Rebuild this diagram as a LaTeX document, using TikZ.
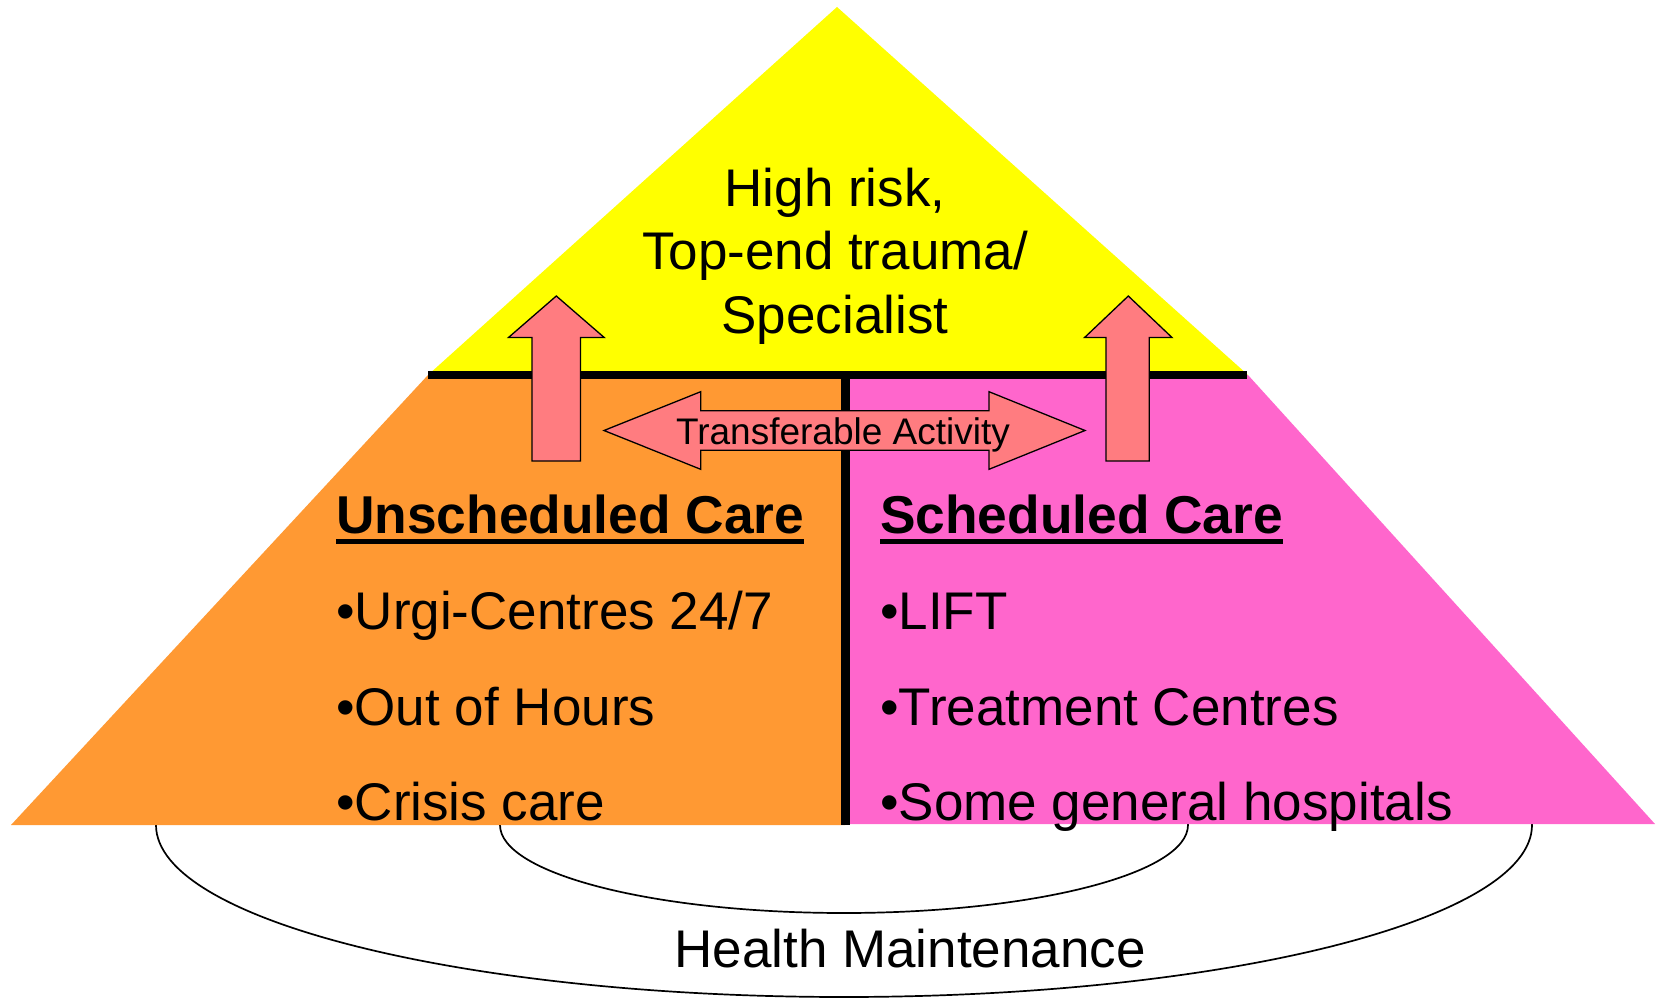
\documentclass[tikz,border=0pt]{standalone}
\usepackage{fontspec}
\setmainfont{Liberation Sans}
\definecolor{apexyellow}{HTML}{FFFF00}
\definecolor{unschedorange}{HTML}{FF9933}
\definecolor{schedpink}{HTML}{FF66CC}
\definecolor{arrowsalmon}{HTML}{FF7C80}
% underlined heading: bar 6pt to 11pt below the baseline, as wide as the text
\newcommand\headbar[1]{\setbox0\hbox{#1}\rlap{\rule[-11pt]{\wd0}{5pt}}\box0}
\begin{document}
\begin{tikzpicture}[x=1pt,y=-1pt,
  bodytext/.style={font=\fontsize{53}{64}\selectfont, inner sep=0pt, anchor=base west},
  headtext/.style={font=\fontsize{53.3}{64}\selectfont\bfseries, inner sep=0pt, anchor=base west},
  arrowshape/.style={fill=arrowsalmon, draw=black, line width=1.3pt, line join=miter},
  ring/.style={draw=black, line width=1.7pt}]
\useasboundingbox (0,0) rectangle (1658,998);

% health maintenance rings (upper halves are hidden by the pyramid)
\draw[ring] (844,825) ellipse [x radius=688pt, y radius=172pt];
\draw[ring] (844,825) ellipse [x radius=344pt, y radius=88pt];

% pyramid tiers
\fill[apexyellow] (837,7) -- (428,375) -- (1248,375) -- cycle;
\fill[unschedorange] (428,375) -- (11,825) -- (845,825) -- (845,375) -- cycle;
\fill[schedpink] (845,375) -- (1248,375) -- (1655,824) -- (845,824) -- cycle;

% dividing bars
\draw[line width=7.5pt] (428,375) -- (1247,375);
\draw[line width=9pt] (845,375) -- (845,825);

% upward arrows
\draw[arrowshape] (532,461) -- (532,337.5) -- (508.5,337.5) -- (556.3,296)
  -- (604.2,337.5) -- (580.5,337.5) -- (580.5,461) -- cycle;
\draw[arrowshape] (1106,461) -- (1106,337.5) -- (1084.6,337.5) -- (1128.3,296)
  -- (1172,337.5) -- (1149.3,337.5) -- (1149.3,461) -- cycle;

% two-way arrow
\draw[arrowshape] (604,430.5) -- (700.7,391.7) -- (700.7,410.7) -- (989,410.7)
  -- (989,391.7) -- (1085,430.5) -- (989,469.3) -- (989,450.3) -- (700.7,450.3)
  -- (700.7,469.3) -- cycle;
\node[font=\fontsize{37}{44}\selectfont, inner sep=0pt, anchor=base] (transfer) at (843,444) {Transferable Activity};

% apex label
\node[font=\fontsize{53}{63.7}\selectfont, align=center, inner sep=0pt] (apex) at (835,256)
  {High risk,\\Top-end trauma/\\Specialist};

% unscheduled care column
\node[headtext] (uhead) at (336,533) {\headbar{Unscheduled Care}};
\node[bodytext] (u1) at (336,629) {•Urgi-Centres 24/7};
\node[bodytext] (u2) at (336,725) {•Out of Hours};
\node[bodytext] (u3) at (336,820) {•Crisis care};

% scheduled care column
\node[headtext] (shead) at (880,533) {\headbar{Scheduled Care}};
\node[bodytext] (s1) at (880,629) {•LIFT};
\node[bodytext] (s2) at (880,725) {•Treatment Centres};
\node[bodytext] (s3) at (880,820) {•Some general hospitals};

% base label
\node[font=\fontsize{53}{64}\selectfont, inner sep=0pt, anchor=base] (health) at (910,967) {Health Maintenance};
\end{tikzpicture}
\end{document}
